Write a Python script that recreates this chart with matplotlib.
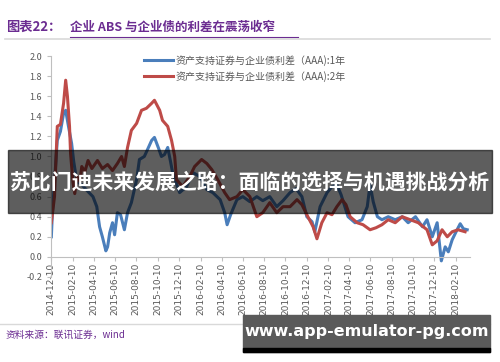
import numpy as np
import pandas as pd
import matplotlib
matplotlib.use('Agg')
import matplotlib.pyplot as plt
from matplotlib.patches import Rectangle
from matplotlib.lines import Line2D

plt.rcParams['font.family'] = ['Noto Sans CJK SC', 'DejaVu Sans']

# 1 year spread (blue)
d1 = ['2014-12-10', '2014-12-13', '2014-12-27', '2015-01-05', '2015-01-14', '2015-01-20',
      '2015-01-28', '2015-02-06', '2015-02-12', '2015-02-21', '2015-03-07', '2015-03-25',
      '2015-04-08', '2015-04-19', '2015-04-27', '2015-05-05', '2015-05-15', '2015-05-20',
      '2015-05-26', '2015-06-03', '2015-06-09', '2015-06-17', '2015-06-26', '2015-07-07',
      '2015-07-16', '2015-07-27', '2015-08-11', '2015-08-19', '2015-09-02', '2015-09-10',
      '2015-09-23', '2015-10-01', '2015-10-13', '2015-10-21', '2015-10-30', '2015-11-08',
      '2015-11-16', '2015-11-22', '2015-12-12', '2016-01-01', '2016-01-19', '2016-02-08',
      '2016-02-28', '2016-03-16', '2016-04-06', '2016-04-19', '2016-04-26', '2016-05-06',
      '2016-05-24', '2016-06-10', '2016-06-30', '2016-07-20', '2016-08-06', '2016-08-26',
      '2016-09-15', '2016-10-03', '2016-10-23', '2016-11-09', '2016-11-26', '2016-12-10',
      '2016-12-25', '2017-01-02', '2017-01-17', '2017-02-06', '2017-02-20', '2017-03-06',
      '2017-03-18', '2017-04-07', '2017-04-27', '2017-05-17', '2017-06-01', '2017-06-09',
      '2017-06-18', '2017-06-30', '2017-07-13', '2017-07-31', '2017-08-20', '2017-09-09',
      '2017-09-26', '2017-10-17', '2017-11-06', '2017-11-19', '2017-12-04', '2017-12-18',
      '2017-12-30', '2018-01-10', '2018-01-19', '2018-01-30', '2018-02-13', '2018-02-22',
      '2018-03-03', '2018-03-14']
v1 = [0.20, 0.44, 1.16, 1.25, 1.43, 1.46,
      1.30, 1.13, 0.95, 0.75, 0.72, 0.65,
      0.60, 0.50, 0.30, 0.20, 0.06, 0.10,
      0.24, 0.34, 0.22, 0.44, 0.42, 0.27,
      0.44, 0.54, 0.77, 0.97, 1.00, 1.06,
      1.16, 1.19, 1.08, 1.00, 1.02, 1.09,
      0.95, 0.84, 0.64, 0.70, 0.84, 0.80,
      0.67, 0.64, 0.57, 0.44, 0.32, 0.42,
      0.57, 0.60, 0.55, 0.60, 0.56, 0.60,
      0.50, 0.56, 0.64, 0.68, 0.60, 0.40,
      0.35, 0.25, 0.50, 0.64, 0.70, 0.72,
      0.62, 0.40, 0.34, 0.37, 0.50, 0.72,
      0.55, 0.40, 0.37, 0.40, 0.37, 0.40,
      0.34, 0.40, 0.30, 0.37, 0.20, 0.34,
      -0.04, 0.10, 0.05, 0.17, 0.27, 0.33,
      0.28, 0.27]

# 2 year spread (red)
d2 = ['2014-12-10', '2014-12-19', '2014-12-27', '2015-01-05', '2015-01-14', '2015-01-20',
      '2015-01-25', '2015-01-31', '2015-02-03', '2015-02-10', '2015-02-15', '2015-02-21',
      '2015-03-02', '2015-03-07', '2015-03-16', '2015-03-25', '2015-04-05', '2015-04-21',
      '2015-05-05', '2015-05-20', '2015-06-03', '2015-06-17', '2015-06-29', '2015-07-07',
      '2015-07-16', '2015-07-27', '2015-08-11', '2015-08-25', '2015-09-08', '2015-09-23',
      '2015-10-01', '2015-10-16', '2015-10-24', '2015-11-08', '2015-11-19', '2015-11-28',
      '2015-12-03', '2015-12-21', '2016-01-10', '2016-01-24', '2016-02-13', '2016-02-28',
      '2016-03-13', '2016-03-30', '2016-04-19', '2016-05-03', '2016-05-24', '2016-06-10',
      '2016-06-30', '2016-07-20', '2016-08-06', '2016-08-26', '2016-09-15', '2016-10-03',
      '2016-10-23', '2016-11-12', '2016-11-26', '2016-12-13', '2016-12-28', '2017-01-08',
      '2017-01-22', '2017-02-06', '2017-02-20', '2017-03-06', '2017-03-21', '2017-04-01',
      '2017-04-13', '2017-05-03', '2017-05-20', '2017-06-09', '2017-06-26', '2017-07-13',
      '2017-07-31', '2017-08-20', '2017-09-09', '2017-10-02', '2017-10-25', '2017-11-19',
      '2017-12-04', '2017-12-18', '2018-01-01', '2018-01-16', '2018-01-30', '2018-02-16',
      '2018-03-08']
v2 = [0.34, 0.60, 1.30, 1.32, 1.53, 1.76,
      1.60, 1.30, 1.03, 0.74, 0.63, 0.80,
      0.75, 0.90, 0.85, 0.96, 0.88, 0.96,
      0.88, 0.92, 0.86, 0.93, 1.00, 0.90,
      1.09, 1.26, 1.33, 1.46, 1.48, 1.53,
      1.56, 1.46, 1.36, 1.30, 1.16, 1.00,
      0.77, 0.70, 0.80, 0.90, 0.97, 0.93,
      0.87, 0.77, 0.64, 0.57, 0.60, 0.67,
      0.60, 0.40, 0.44, 0.54, 0.44, 0.50,
      0.50, 0.57, 0.52, 0.40, 0.30, 0.18,
      0.34, 0.44, 0.42, 0.50, 0.57, 0.52,
      0.40, 0.34, 0.32, 0.27, 0.29, 0.32,
      0.37, 0.34, 0.40, 0.37, 0.34, 0.27,
      0.12, 0.16, 0.27, 0.20, 0.25, 0.27,
      0.25]

labels = ['资产支持证券与企业债利差（AAA):1年', '资产支持证券与企业债利差（AAA):2年']
tick_labels = ['2014-12-10', '2015-02-10', '2015-04-10', '2015-06-10', '2015-08-10',
               '2015-10-10', '2015-12-10', '2016-02-10', '2016-04-10', '2016-06-10',
               '2016-08-10', '2016-10-10', '2016-12-10', '2017-02-10', '2017-04-10',
               '2017-06-10', '2017-08-10', '2017-10-10', '2017-12-10', '2018-02-10']
yticks = np.round(np.arange(-0.2, 2.01, 0.2), 1)

fig = plt.figure(figsize=(5, 3.62), dpi=100)
ax = fig.add_axes([0.102, 0.235, 0.838, 0.61])

gray = '#595959'
ax.plot(pd.to_datetime(d1), v1, color='#4a7ebb', lw=2.2, label=labels[0])
ax.plot(pd.to_datetime(d2), v2, color='#be4b48', lw=2.2, label=labels[1])

# spine position first: it resets the ticks
ax.spines['top'].set_visible(False)
ax.spines['right'].set_visible(False)
ax.spines['bottom'].set_position(('data', 0))
ax.spines['bottom'].set_color('#bfbfbf')
ax.spines['left'].set_color('#bfbfbf')

ax.set_ylim(-0.2, 2.0)
ax.set_yticks(yticks)
ax.set_yticklabels(['%.1f' % t for t in yticks])
ax.set_xlim(pd.Timestamp('2014-12-09'), pd.Timestamp('2018-03-22'))
ax.set_xticks(pd.to_datetime(tick_labels))
ax.set_xticklabels(tick_labels, family='DejaVu Sans')
ax.tick_params(axis='both', colors='#bfbfbf', labelcolor=gray, labelsize=6.5, length=3, width=0.8)
ax.tick_params(axis='x', pad=1, labelrotation=90)

leg = ax.legend(loc='upper left', bbox_to_anchor=(0.2, 1.045), frameon=False, fontsize=7.2,
                handlelength=2.9, labelspacing=0.45, handletextpad=0.3)
for t in leg.get_texts():
    t.set_color(gray)

purple = '#6b2c91'
fig.text(0.012, 0.925, '图表22：', color=purple, fontsize=9.5, fontweight='bold', va='center')
fig.text(0.14, 0.925, '企业 ABS 与企业债的利差在震荡收窄', color=purple, fontsize=9,
         fontweight='bold', va='center')
fig.add_artist(Line2D([0.14, 0.596], [0.898, 0.898], color=purple, lw=0.8, transform=fig.transFigure))
fig.add_artist(Line2D([0.01, 0.98], [0.893, 0.893], color='#d9d9d9', lw=1.2, transform=fig.transFigure))
fig.add_artist(Line2D([0.0, 0.98], [0.105, 0.105], color='#d9d9d9', lw=1.0, transform=fig.transFigure))
fig.text(0.012, 0.075, '资料来源：联讯证券，wind', color=purple, fontsize=7, style='italic', va='center')

# overlay banner
fig.add_artist(Rectangle((0.016, 0.412), 0.968, 0.174, color='black', alpha=0.63,
                         transform=fig.transFigure, zorder=5))
fig.text(0.5, 0.497, '苏比门迪未来发展之路：面临的选择与机遇挑战分析', color='white', fontsize=15,
         fontweight='bold', ha='center', va='center', zorder=6)

# watermark
fig.add_artist(Rectangle((0.486, 0.028), 0.494, 0.102, color='#5a5a5a', transform=fig.transFigure, zorder=5))
fig.add_artist(Rectangle((0.486, 0.028), 0.494, 0.012, color='black', transform=fig.transFigure, zorder=5))
fig.text(0.733, 0.085, 'www.app-emulator-pg.com', color='white', fontsize=11.5, fontweight='bold',
         family='DejaVu Sans', ha='center', va='center', zorder=6)

fig.savefig('out.png', dpi=100)
